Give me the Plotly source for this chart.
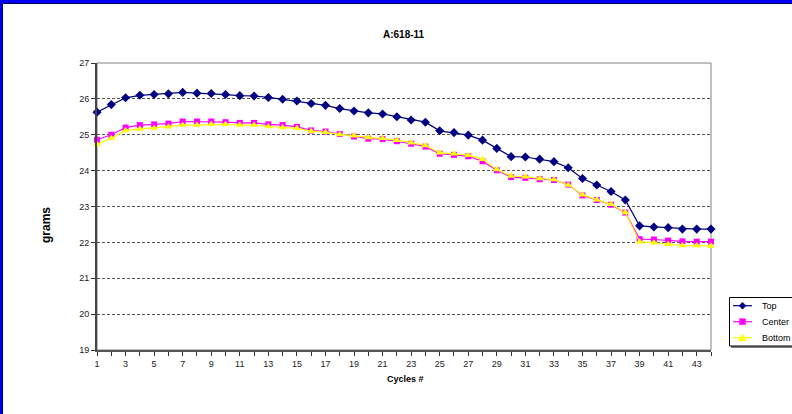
import plotly.graph_objects as go

cycles = [1, 2, 3, 4, 5, 6, 7, 8, 9, 10, 11, 12, 13, 14, 15, 16, 17, 18, 19, 20, 21, 22,
          23, 24, 25, 26, 27, 28, 29, 30, 31, 32, 33, 34, 35, 36, 37, 38, 39, 40, 41, 42, 43, 44]

top = [25.63, 25.84, 26.03, 26.10, 26.12, 26.14, 26.18, 26.16, 26.15, 26.12, 26.09, 26.08,
       26.04, 25.99, 25.94, 25.87, 25.82, 25.73, 25.66, 25.61, 25.58, 25.50, 25.41, 25.35,
       25.11, 25.06, 24.99, 24.85, 24.62, 24.39, 24.38, 24.32, 24.25, 24.08, 23.78, 23.60,
       23.42, 23.18, 22.46, 22.43, 22.41, 22.37, 22.37, 22.37]

center = [24.86, 25.00, 25.20, 25.27, 25.29, 25.31, 25.37, 25.37, 25.37, 25.35, 25.33, 25.33,
          25.29, 25.27, 25.22, 25.12, 25.09, 25.02, 24.95, 24.89, 24.88, 24.82, 24.75, 24.67,
          24.47, 24.44, 24.40, 24.26, 24.01, 23.82, 23.80, 23.76, 23.74, 23.61, 23.31, 23.18,
          23.05, 22.83, 22.09, 22.08, 22.05, 22.03, 22.02, 22.02]

bottom = [24.73, 24.90, 25.12, 25.16, 25.18, 25.22, 25.27, 25.27, 25.29, 25.29, 25.27, 25.27,
          25.23, 25.20, 25.18, 25.10, 25.07, 25.01, 24.97, 24.92, 24.90, 24.85, 24.78, 24.70,
          24.50, 24.47, 24.43, 24.32, 24.03, 23.85, 23.83, 23.78, 23.75, 23.60, 23.33, 23.19,
          23.06, 22.83, 22.02, 21.99, 21.95, 21.91, 21.91, 21.90]

series_names = ["Top", "Center", "Bottom"]
title_text = "A:618-11"
y_title = "grams"
x_title = "Cycles #"
x_tick_labels = [str(c) if c % 2 == 1 else "" for c in cycles]

FONT = "Liberation Sans, Arial, sans-serif"
W, H = 792, 414
L, R, T, B = 97, 711, 63, 350

styles = [
    dict(color="#000080", symbol="diamond", size=7),
    dict(color="#FF00FF", symbol="square", size=6),
    dict(color="#FFFF00", symbol="triangle-up", size=7),
]


def px(x):
    return (x - L) / (R - L)


def py(y):
    return (B - y) / (B - T)


fig = go.Figure()
for name, vals, st in zip(series_names, [top, center, bottom], styles):
    fig.add_trace(go.Scatter(
        x=cycles, y=vals, name=name, mode="lines+markers",
        line=dict(color=st["color"], width=1.2),
        marker=dict(symbol=st["symbol"], size=st["size"], color=st["color"]),
        cliponaxis=False, showlegend=False))

shapes = [
    # plot area border (top/right gray)
    dict(type="rect", xref="paper", yref="paper", x0=0, x1=1, y0=0, y1=1,
         line=dict(color="#808080", width=1), layer="below"),
    # blue window frame
    dict(type="rect", xref="paper", yref="paper", x0=px(-2), x1=px(800),
         y0=py(3), y1=py(-2), fillcolor="#0000F0", line=dict(width=0), layer="above"),
    dict(type="rect", xref="paper", yref="paper", x0=px(-2), x1=px(2),
         y0=py(420), y1=py(0), fillcolor="#0000F0", line=dict(width=0), layer="above"),
    dict(type="line", xref="paper", yref="paper", x0=px(2.5), x1=px(800),
         y0=py(3.5), y1=py(3.5), line=dict(color="#000060", width=1), layer="above"),
    dict(type="line", xref="paper", yref="paper", x0=px(2.5), x1=px(2.5),
         y0=py(420), y1=py(3.5), line=dict(color="#000060", width=1), layer="above"),
    # legend shadow and box
    dict(type="rect", xref="paper", yref="paper", x0=px(731), x1=px(800),
         y0=py(348), y1=py(299), fillcolor="#808080", line=dict(width=0), layer="above"),
    dict(type="rect", xref="paper", yref="paper", x0=px(729.5), x1=px(798),
         y0=py(346), y1=py(297.5), fillcolor="white", line=dict(color="#000", width=1),
         layer="above"),
]

annotations = [
    dict(text="<b>%s</b>" % title_text, xref="paper", yref="paper", x=px(404), y=py(35),
         showarrow=False, xanchor="center", yanchor="middle",
         font=dict(family=FONT, size=10, color="#000")),
    dict(text="<b>%s</b>" % y_title, xref="paper", yref="paper", x=px(46), y=py(225),
         showarrow=False, xanchor="center", yanchor="middle", textangle=-90,
         font=dict(family=FONT, size=12, color="#000")),
    dict(text="<b>%s</b>" % x_title, xref="paper", yref="paper", x=px(405), y=py(379),
         showarrow=False, xanchor="center", yanchor="middle",
         font=dict(family=FONT, size=9, color="#000")),
]

# legend entries (line + marker glyph + label)
leg_y = [305.7, 321.7, 337.7]
for name, st, ly in zip(series_names, styles, leg_y):
    shapes.append(dict(type="line", xref="paper", yref="paper", x0=px(733), x1=px(752),
                       y0=py(ly), y1=py(ly), line=dict(color=st["color"], width=1.2),
                       layer="above"))
    cx = 742.5
    if st["symbol"] == "diamond":
        pts = [(cx, ly - 3.5), (cx + 3.5, ly), (cx, ly + 3.5), (cx - 3.5, ly)]
    elif st["symbol"] == "square":
        pts = [(cx - 3, ly - 3), (cx + 3, ly - 3), (cx + 3, ly + 3), (cx - 3, ly + 3)]
    else:
        pts = [(cx, ly - 3.5), (cx + 3.8, ly + 3), (cx - 3.8, ly + 3)]
    path = "M " + " L ".join("%.5f,%.5f" % (px(a), py(b)) for a, b in pts) + " Z"
    shapes.append(dict(type="path", xref="paper", yref="paper", path=path,
                       fillcolor=st["color"], line=dict(color=st["color"], width=0.5),
                       layer="above"))
    annotations.append(dict(text=name, xref="paper", yref="paper", x=px(759.5), y=py(ly),
                            showarrow=False, xanchor="left", yanchor="middle",
                            font=dict(family=FONT, size=9, color="#000")))

fig.update_layout(
    width=W, height=H,
    margin=dict(l=L, r=W - R, t=T, b=H - B, autoexpand=False),
    paper_bgcolor="white", plot_bgcolor="white",
    font=dict(family=FONT, size=9, color="#222"),
    showlegend=False,
    shapes=shapes,
    annotations=annotations,
    xaxis=dict(range=[1, 44], tickmode="array", tickvals=cycles, ticktext=x_tick_labels,
               ticks="outside", ticklen=4, tickcolor="#333", tickwidth=1,
               showline=True, linecolor="#555", linewidth=2,
               showgrid=False, zeroline=False,
               tickfont=dict(family=FONT, size=9, color="#222")),
    yaxis=dict(range=[19, 27], tickmode="linear", tick0=19, dtick=1,
               ticks="outside", ticklen=4, tickcolor="#333", tickwidth=1,
               showline=True, linecolor="#444", linewidth=2,
               showgrid=True, gridcolor="#555", gridwidth=1, griddash="3px,2px",
               zeroline=False,
               tickfont=dict(family=FONT, size=9, color="#222")),
)

fig.write_html("out.html",
               config={"displayModeBar": False},
               post_script="document.body.style.margin='0px';document.body.style.overflow='hidden';")
